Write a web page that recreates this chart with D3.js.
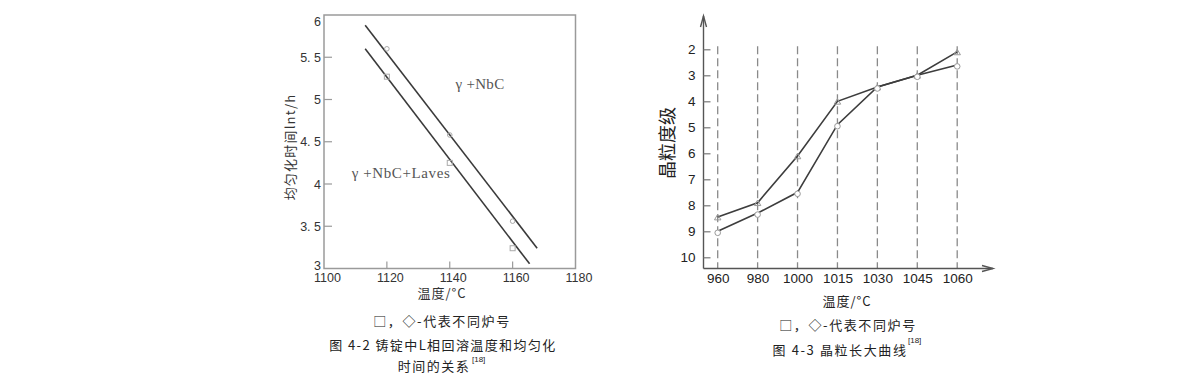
<!DOCTYPE html>
<html><head><meta charset="utf-8">
<script src="https://cdn.jsdelivr.net/npm/d3@7"></script>
<style>body{margin:0;background:#fff;} svg{display:block;}</style>
</head><body>
<svg id="c" width="1200" height="382"></svg>
<script>
// ---------- Left chart data ----------
const leftXTicks = [1100, 1120, 1140, 1160, 1180];
const leftYTicks = [3, 3.5, 4, 4.5, 5, 5.5, 6];
const leftYTickLabels = ["3", "3. 5", "4", "4. 5", "5", "5. 5", "6"];
const diamondTemps = [1120, 1140, 1160];
const diamondTimes = [5.6, 4.58, 3.56];
const squareTemps = [1120, 1140, 1160];
const squareTimes = [5.27, 4.25, 3.24];
const upperFitTemps = [1113.1, 1167.8];
const upperFitTimes = [5.88, 3.24];
const lowerFitTemps = [1113.1, 1165.4];
const lowerFitTimes = [5.6, 3.055];

// ---------- Right chart data ----------
const rightCategories = ["960", "980", "1000", "1015", "1030", "1045", "1060"];
const rightYTicks = [2, 3, 4, 5, 6, 7, 8, 9, 10];
const gradeTriangle = [8.45, 7.9, 6.1, 4.0, 3.45, 3.0, 2.1];
const gradeCircle = [9.0, 8.3, 7.5, 4.9, 3.45, 3.0, 2.6];

const svg = d3.select("#c");
const sans = "'Liberation Sans', Arial, sans-serif";
const cjk = "'Noto Sans CJK SC', sans-serif";
const serif = "'Liberation Serif', 'DejaVu Serif', serif";

function cap(g, x, y, txt, ls) {
  return g.append("text").attr("x", x).attr("y", y).attr("text-anchor", "middle")
    .attr("font-family", cjk).attr("font-size", 13).attr("letter-spacing", ls)
    .attr("fill", "#222").text(txt);
}

// ================= LEFT CHART =================
const lx = d3.scaleLinear().domain([1100, 1180]).range([324, 575.5]);
const ly = d3.scaleLinear().domain([3, 6]).range([268.5, 15]);
const L = svg.append("g");
L.append("rect").attr("x", lx(1100)).attr("y", ly(6))
  .attr("width", lx(1180) - lx(1100)).attr("height", ly(3) - ly(6))
  .attr("fill", "none").attr("stroke", "#9a9a9a").attr("stroke-width", 1.5);
const lxAxis = d3.axisBottom(lx).tickValues(leftXTicks).tickSize(0).tickPadding(5).tickFormat(d3.format("d"));
const gx = L.append("g").attr("transform", `translate(0,${ly(3)})`).call(lxAxis);
gx.select(".domain").remove();
gx.selectAll("text").attr("font-family", sans).attr("font-size", 12.5).attr("fill", "#333").attr("dx", 3);
L.selectAll(".xt").data(leftXTicks.slice(1, -1)).join("line")
  .attr("x1", d => lx(d)).attr("x2", d => lx(d))
  .attr("y1", ly(3)).attr("y2", ly(3) - 7).attr("stroke", "#9a9a9a").attr("stroke-width", 1.2);
const lyAxis = d3.axisLeft(ly).tickValues(leftYTicks).tickSize(0).tickPadding(3)
  .tickFormat((d, i) => leftYTickLabels[i]);
const gy = L.append("g").attr("transform", `translate(${lx(1100)},0)`).call(lyAxis);
gy.select(".domain").remove();
gy.selectAll("text").attr("font-family", sans).attr("font-size", 12.5).attr("fill", "#333")
  .attr("dy", (d) => d === 6 ? "0.85em" : d === 3 ? "0.05em" : "0.32em");
L.selectAll(".yt").data(leftYTicks.slice(1, -1)).join("line")
  .attr("x1", lx(1100)).attr("x2", lx(1100) + 8)
  .attr("y1", d => ly(d)).attr("y2", d => ly(d)).attr("stroke", "#9a9a9a").attr("stroke-width", 1.2);
const line = d3.line().x(d => lx(d[0])).y(d => ly(d[1]));
L.append("path").datum(upperFitTemps.map((t, i) => [t, upperFitTimes[i]]))
  .attr("d", line).attr("stroke", "#3a3a3a").attr("stroke-width", 1.6).attr("fill", "none");
L.append("path").datum(lowerFitTemps.map((t, i) => [t, lowerFitTimes[i]]))
  .attr("d", line).attr("stroke", "#3a3a3a").attr("stroke-width", 1.6).attr("fill", "none");
L.selectAll(".dm").data(diamondTemps).join("circle")
  .attr("cx", d => lx(d)).attr("cy", (d, i) => ly(diamondTimes[i])).attr("r", 2.3)
  .attr("fill", "none").attr("stroke", "#aaa").attr("stroke-width", 1);
L.selectAll(".sq").data(squareTemps).join("rect")
  .attr("x", d => lx(d) - 2.5).attr("y", (d, i) => ly(squareTimes[i]) - 2.5)
  .attr("width", 5).attr("height", 5)
  .attr("fill", "none").attr("stroke", "#aaa").attr("stroke-width", 1);
L.append("text").attr("x", 480).attr("y", 89).attr("text-anchor", "middle")
  .attr("font-family", serif).attr("font-size", 15).attr("letter-spacing", 0.3).attr("fill", "#555").text("γ +NbC");
L.append("text").attr("x", 401).attr("y", 178).attr("text-anchor", "middle")
  .attr("font-family", serif).attr("font-size", 15).attr("letter-spacing", 0.6).attr("fill", "#555").text("γ +NbC+Laves");
L.append("text").attr("transform", "translate(295,147) rotate(-90)").attr("text-anchor", "middle")
  .attr("font-family", cjk).attr("font-size", 13).attr("letter-spacing", 1.2).attr("fill", "#333").text("均匀化时间lnt/h");
L.append("text").attr("x", 442).attr("y", 298).attr("text-anchor", "middle")
  .attr("font-family", cjk).attr("font-size", 13).attr("letter-spacing", 1).attr("fill", "#333").text("温度/°C");
cap(L, 442, 326, "□，◇-代表不同炉号", 1.6);
cap(L, 443, 350, "图 4-2 铸锭中L相回溶温度和均匀化", 1.4);
cap(L, 434, 371, "时间的关系", 1.5);
L.append("text").attr("x", 472).attr("y", 362)
  .attr("font-family", sans).attr("font-size", 8).attr("fill", "#222").text("[18]");

// ================= RIGHT CHART =================
const rx = d3.scalePoint().domain(rightCategories).range([717.7, 957.2]);
const ry = d3.scaleLinear().domain([2, 10]).range([49.3, 257.3]);
const R = svg.append("g");
const axisX0 = 703.5, axisY0 = 268.5;
R.selectAll(".dash").data(rightCategories).join("line")
  .attr("x1", d => rx(d)).attr("x2", d => rx(d))
  .attr("y1", ry(2) - 3).attr("y2", axisY0)
  .attr("stroke", "#8a8a8a").attr("stroke-width", 1.3).attr("stroke-dasharray", "8,4");
R.append("line").attr("x1", axisX0).attr("x2", axisX0).attr("y1", axisY0).attr("y2", 16)
  .attr("stroke", "#555").attr("stroke-width", 1.4);
R.append("path").attr("d", `M${axisX0 - 3},${27} L${axisX0},${16} L${axisX0 + 3},${27}`)
  .attr("fill", "none").attr("stroke", "#555").attr("stroke-width", 1.4);
R.append("line").attr("x1", axisX0).attr("x2", 993).attr("y1", axisY0).attr("y2", axisY0)
  .attr("stroke", "#555").attr("stroke-width", 1.4);
R.append("path").attr("d", `M${982},${axisY0 - 3} L${993},${axisY0} L${982},${axisY0 + 3}`)
  .attr("fill", "none").attr("stroke", "#555").attr("stroke-width", 1.4);
const ryAxis = d3.axisRight(ry).tickValues(rightYTicks).tickSize(7).tickFormat(d3.format("d"));
const gry = R.append("g").attr("transform", `translate(${axisX0},0)`).call(ryAxis);
gry.select(".domain").remove();
gry.selectAll("line").attr("stroke", "#777").attr("stroke-width", 1.2);
gry.selectAll("text").attr("x", -8).attr("text-anchor", "end")
  .attr("font-family", sans).attr("font-size", 13.5).attr("fill", "#222");
const rxAxis = d3.axisBottom(rx).tickSize(0).tickPadding(5);
const grx = R.append("g").attr("transform", `translate(0,${axisY0})`).call(rxAxis);
grx.select(".domain").remove();
grx.selectAll("text").attr("font-family", sans).attr("font-size", 13.5).attr("fill", "#222");
const rline = d3.line().x(d => rx(d[0])).y(d => ry(d[1]));
R.append("path").datum(rightCategories.map((c, i) => [c, gradeTriangle[i]]))
  .attr("d", rline).attr("fill", "none").attr("stroke", "#3d3d3d").attr("stroke-width", 1.6);
R.append("path").datum(rightCategories.map((c, i) => [c, gradeCircle[i]]))
  .attr("d", rline).attr("fill", "none").attr("stroke", "#3d3d3d").attr("stroke-width", 1.6);
const tri = d3.symbol().type(d3.symbolTriangle).size(18);
R.selectAll(".tri").data(rightCategories).join("path")
  .attr("d", tri).attr("transform", (d, i) => `translate(${rx(d)},${ry(gradeTriangle[i]) + 1})`)
  .attr("fill", "none").attr("stroke", "#999").attr("stroke-width", 1);
R.selectAll(".cir").data(rightCategories).join("circle")
  .attr("cx", d => rx(d)).attr("cy", (d, i) => ry(gradeCircle[i]) + 1.5).attr("r", 2.8)
  .attr("fill", "#fff").attr("stroke", "#999").attr("stroke-width", 1);
R.append("text").attr("transform", "translate(668,143) rotate(-90)").attr("text-anchor", "middle")
  .attr("dy", "0.35em").attr("font-family", cjk).attr("font-size", 18).attr("fill", "#222").text("晶粒度级");
R.append("text").attr("x", 847).attr("y", 306).attr("text-anchor", "middle")
  .attr("font-family", cjk).attr("font-size", 13).attr("letter-spacing", 1).attr("fill", "#222").text("温度/°C");
cap(R, 848, 330, "□，◇-代表不同炉号", 1.6);
cap(R, 840, 355, "图 4-3 晶粒长大曲线", 1.6);
R.append("text").attr("x", 908).attr("y", 343)
  .attr("font-family", sans).attr("font-size", 8).attr("fill", "#222").text("[18]");
</script>
</body></html>
